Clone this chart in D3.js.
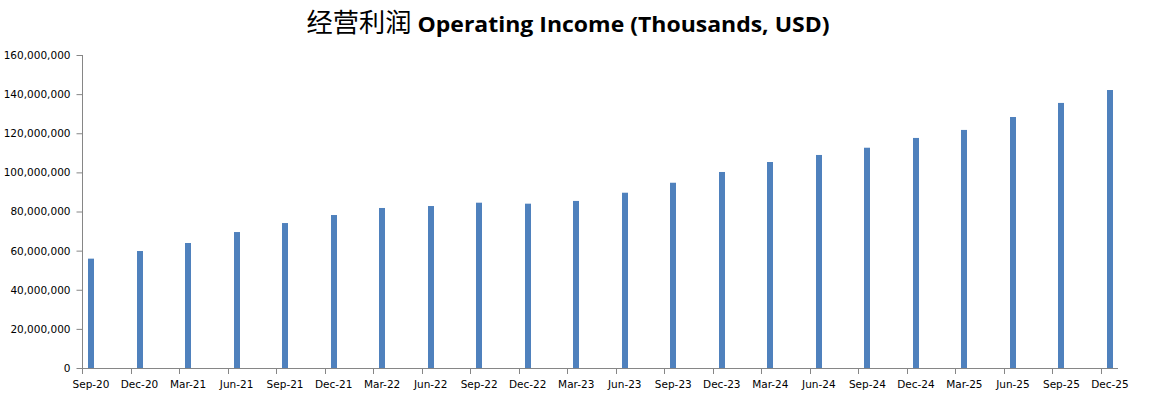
<!DOCTYPE html>
<html>
<head>
<meta charset="utf-8">
<script src="https://cdn.jsdelivr.net/npm/d3@7"></script>
<style>
  html, body { margin: 0; padding: 0; background: #fff; }
  svg { display: block; }
</style>
</head>
<body>
<svg id="chart" width="1149" height="399"></svg>
<script>
const categories = ["Sep-20","Dec-20","Mar-21","Jun-21","Sep-21","Dec-21","Mar-22","Jun-22","Sep-22","Dec-22","Mar-23","Jun-23","Sep-23","Dec-23","Mar-24","Jun-24","Sep-24","Dec-24","Mar-25","Jun-25","Sep-25","Dec-25"];
const values = [55900000,59800000,63900000,69500000,74100000,78200000,81800000,82800000,84500000,84000000,85400000,89600000,94700000,100200000,105300000,108900000,112600000,117600000,121700000,128300000,135500000,142100000];
const yTicks = [0,20000000,40000000,60000000,80000000,100000000,120000000,140000000,160000000];
const titleZh = "经营利润";
const titleEn = "Operating Income (Thousands, USD)";

(function () {
const svg = d3.select("#chart");
const plotLeft = 83, plotBottom = 368, plotTop = 55;
const step = (1102 - 83) / 21;

const x = d3.scaleBand().domain(categories).range([plotLeft, plotLeft + step * categories.length]).paddingInner(0).paddingOuter(0);
const y = d3.scaleLinear().domain([0, 160000000]).range([plotBottom, plotTop]);

const axisColor = "#868686";
const barColor = "#4F81BD";

// Title
const title = svg.append("text")
  .attr("x", 568).attr("y", 32)
  .attr("text-anchor", "middle")
  .attr("fill", "#000");
title.append("tspan")
  .attr("font-family", "'Noto Sans CJK SC', sans-serif")
  .attr("font-size", 26)
  .attr("font-weight", 400)
  .attr("textLength", 105)
  .attr("lengthAdjust", "spacingAndGlyphs")
  .text(titleZh);
title.append("tspan")
  .attr("dx", 6)
  .attr("font-family", "'Open Sans', sans-serif")
  .attr("font-size", 22)
  .attr("font-weight", 700)
  .attr("textLength", 412)
  .attr("lengthAdjust", "spacingAndGlyphs")
  .text(titleEn);

// Y axis
const yAxis = d3.axisLeft(y).tickValues(yTicks).tickFormat(d3.format(",")).tickSize(6).tickPadding(6);
const gy = svg.append("g").attr("transform", `translate(${plotLeft - 0.5},0)`).call(yAxis);
gy.select(".domain").attr("stroke", axisColor).attr("d", `M0,${plotTop}V${plotBottom + 0.5}`);
gy.selectAll(".tick line").attr("stroke", axisColor);
gy.selectAll(".tick text")
  .attr("font-family", "'DejaVu Sans', Verdana, sans-serif")
  .attr("font-size", 10.5)
  .attr("fill", "#000");

// X axis line and ticks
const gx = svg.append("g");
gx.append("line")
  .attr("x1", plotLeft - 1).attr("x2", x(categories[categories.length - 1]) + 16)
  .attr("y1", plotBottom + 0.5).attr("y2", plotBottom + 0.5)
  .attr("stroke", axisColor);
gx.selectAll("line.tk").data(categories).join("line")
  .attr("class", "tk")
  .attr("x1", d => Math.round(x(d)) - 0.5).attr("x2", d => Math.round(x(d)) - 0.5)
  .attr("y1", plotBottom).attr("y2", plotBottom + 6)
  .attr("stroke", axisColor);
gx.selectAll("text").data(categories).join("text")
  .attr("x", d => x(d) + 8)
  .attr("y", 388)
  .attr("text-anchor", "middle")
  .attr("font-family", "'DejaVu Sans', Verdana, sans-serif")
  .attr("font-size", 10.5)
  .attr("fill", "#000")
  .text(d => d);

// Bars
svg.append("g").selectAll("rect").data(values).join("rect")
  .attr("x", (d, i) => Math.round(x(categories[i])) + 5)
  .attr("width", 6)
  .attr("y", d => y(d))
  .attr("height", d => plotBottom - y(d))
  .attr("fill", barColor);
})();
</script>
</body>
</html>
